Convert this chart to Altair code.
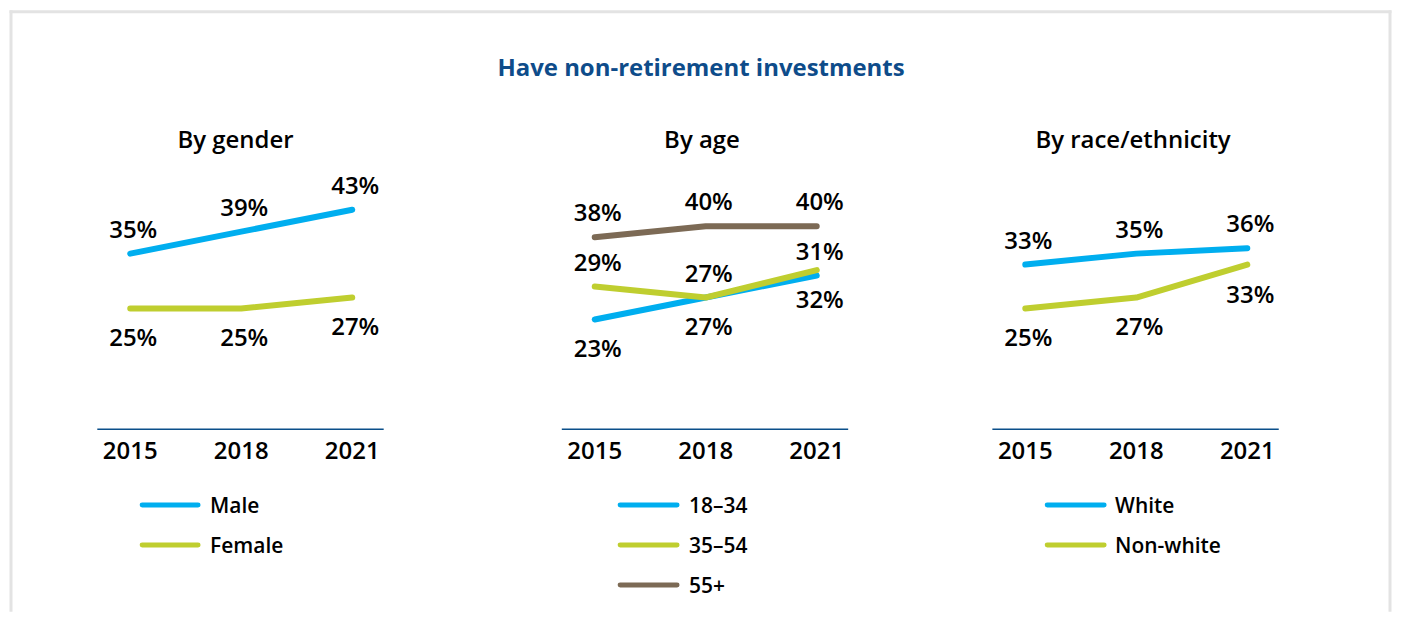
import altair as alt
import pandas as pd

# ---------------- data ----------------
years = [2015, 2018, 2021]

male = [35, 39, 43]
female = [25, 25, 27]
age_18_34 = [23, 27, 31]
age_35_54 = [29, 27, 32]
age_55_plus = [38, 40, 40]
white = [33, 35, 36]
non_white = [25, 27, 33]

main_title = "Have non-retirement investments"
panel_titles = ["By gender", "By age", "By race/ethnicity"]
panel_series = [["Male", "Female"], ["18–34", "35–54", "55+"], ["White", "Non-white"]]

series_values = {
    "Male": male, "Female": female,
    "18–34": age_18_34, "35–54": age_35_54, "55+": age_55_plus,
    "White": white, "Non-white": non_white,
}

# which side of the line each value label sits on
label_sides = {
    "Male": ["above", "above", "above"],
    "Female": ["below", "below", "below"],
    "18–34": ["below", "below", "above"],
    "35–54": ["above", "above", "below"],
    "55+": ["above", "above", "above"],
    "White": ["above", "above", "above"],
    "Non-white": ["below", "below", "below"],
}

BLUE, LIME, BROWN = "#00AEEF", "#BFCE2F", "#7C6A55"
series_colors = {
    "Male": BLUE, "Female": LIME,
    "18–34": BLUE, "35–54": LIME, "55+": BROWN,
    "White": BLUE, "Non-white": LIME,
}

rows = []
for title, names in zip(panel_titles, panel_series):
    for name in names:
        for yr, v, side in zip(years, series_values[name], label_sides[name]):
            rows.append(dict(panel=title, series=name, year=yr, value=v, side=side,
                             label=f"{v}%"))
df = pd.DataFrame(rows)
year_df = pd.DataFrame({"year": years})

# ---------------- layout / style ----------------
FONT = "Open Sans"
TITLE_BLUE = "#0E4C8A"
AXIS_BLUE = "#0B4F8A"
FRAME = "#E3E3E3"
W, H = 1382, 600

X_DOMAIN = [2014.11, 2021.85]
Y_DOMAIN = [3, 51]
Y_RANGE = [418.5, 154.5]
panel_ranges = [[86.5, 373.5], [552, 839], [983.5, 1270.5]]
panel_title_x = [225, 692.5, 1124.5]
legend_geom = [  # symbol start, symbol end, label x
    (131.5, 187.5, 199.5),
    (610.5, 667.5, 679.5),
    (1038.5, 1095.5, 1106.5),
]
LEG_Y0, LEG_STEP = 494.5, 40

color_scale = alt.Scale(domain=list(series_colors.keys()), range=list(series_colors.values()))
c_enc = alt.Color("series:N", scale=color_scale, legend=None)
txt = dict(font=FONT, fontSize=24, fontWeight=600, color="#000",
           align="center", baseline="middle")
ys = alt.Scale(domain=Y_DOMAIN, range=Y_RANGE, nice=False, zero=False)
y_enc = alt.Y("value:Q", scale=ys, axis=None)

layers = []

# frame (decoration)
one = pd.DataFrame({"k": [1]})
frame_kw = dict(color=FRAME, strokeWidth=3, strokeCap="square")
layers.append(alt.Chart(one).mark_rule(**frame_kw).encode(
    x=alt.value(0), x2=alt.value(W), y=alt.value(0)))
layers.append(alt.Chart(one).mark_rule(**frame_kw).encode(
    x=alt.value(0), y=alt.value(0), y2=alt.value(H)))
layers.append(alt.Chart(one).mark_rule(**frame_kw).encode(
    x=alt.value(W), y=alt.value(0), y2=alt.value(H)))

# main title
layers.append(alt.Chart(pd.DataFrame({"t": [main_title]})).mark_text(
    font=FONT, fontSize=24, fontWeight="bold", color=TITLE_BLUE,
    align="center", baseline="middle").encode(
    x=alt.value(691.5), y=alt.value(57), text="t:N"))

for i, title in enumerate(panel_titles):
    xs = alt.Scale(domain=X_DOMAIN, range=panel_ranges[i], nice=False, zero=False)
    x_enc = alt.X("year:Q", scale=xs, axis=None)
    base = alt.Chart(df).transform_filter(alt.datum.panel == title)

    layers.append(base.mark_line(strokeWidth=6, strokeCap="round", strokeJoin="round").encode(
        x=x_enc, y=y_enc, color=c_enc))
    layers.append(base.transform_filter(alt.datum.side == "above")
                  .mark_text(dy=-23, dx=3, **txt).encode(x=x_enc, y=y_enc, text="label:N"))
    layers.append(base.transform_filter(alt.datum.side == "below")
                  .mark_text(dy=31, dx=3, **txt).encode(x=x_enc, y=y_enc, text="label:N"))

    # x axis baseline and year labels
    axis_df = pd.DataFrame({"x0": [X_DOMAIN[0]], "x1": [X_DOMAIN[1]], "y0": [Y_DOMAIN[0]]})
    layers.append(alt.Chart(axis_df).mark_rule(color=AXIS_BLUE, strokeWidth=1.5).encode(
        x=alt.X("x0:Q", scale=xs, axis=None), x2="x1:Q",
        y=alt.Y("y0:Q", scale=ys, axis=None)))
    layers.append(alt.Chart(year_df).transform_calculate(y0=str(Y_DOMAIN[0])).mark_text(
        dy=23, **txt).encode(
        x=x_enc, y=alt.Y("y0:Q", scale=ys, axis=None),
        text=alt.Text("year:Q", format="d")))

    # panel subtitle
    layers.append(alt.Chart(pd.DataFrame({"t": [title]})).mark_text(**txt).encode(
        x=alt.value(panel_title_x[i]), y=alt.value(129.5), text="t:N"))

    # legend
    names = panel_series[i]
    s0, s1, lx = legend_geom[i]
    ldf = pd.DataFrame({"series": names})
    lys = alt.Scale(type="point", domain=names,
                    range=[LEG_Y0, LEG_Y0 + LEG_STEP * (len(names) - 1)], padding=0)
    yl = alt.Y("series:N", scale=lys, axis=None)
    layers.append(alt.Chart(ldf).mark_rule(strokeWidth=5, strokeCap="round").encode(
        x=alt.value(s0), x2=alt.value(s1), y=yl, color=c_enc))
    layers.append(alt.Chart(ldf).mark_text(align="left", baseline="middle", dy=2, font=FONT,
                                           fontSize=21, fontWeight=600, color="#000").encode(
        x=alt.value(lx), y=yl, text="series:N"))

chart = alt.layer(*layers).resolve_scale(x="independent", y="independent").properties(
    width=W, height=H, padding=0, background="white",
).configure_view(stroke="transparent", strokeWidth=0)

chart.save("out.html", embed_options={"renderer": "svg", "actions": False})
